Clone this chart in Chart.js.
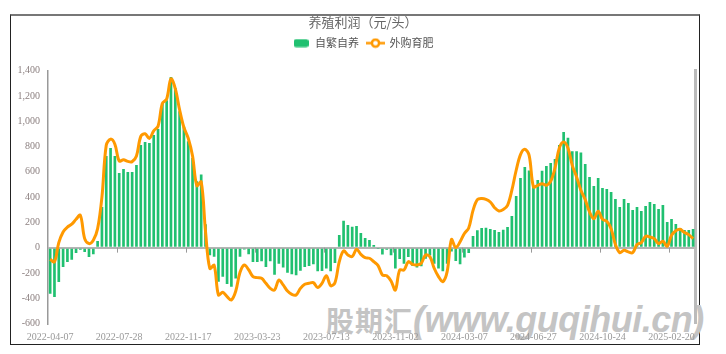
<!DOCTYPE html>
<html>
<head>
<meta charset="utf-8">
<script src="https://cdn.jsdelivr.net/npm/chart.js@4/dist/chart.umd.min.js"></script>
<style>
  html, body { margin: 0; padding: 0; background: #fff; }
  #wrap { position: relative; width: 726px; height: 354px; overflow: hidden; }
  #frame { position: absolute; left: 10px; top: 14px; width: 690px; height: 331px; box-sizing: border-box;
           border: 1px solid #222; border-top: 2px solid #777; }
  #mark { position: absolute; left: 326px; top: 300px; white-space: nowrap; color: #c4c4c4;
          font-weight: bold; line-height: 40px; }
  #mark .cn { font-family: "Noto Sans CJK SC"; font-size: 28px; letter-spacing: 1px; }
  #mark .en { font-family: "Liberation Sans"; font-style: italic; font-size: 36px; letter-spacing: -0.5px; }
  canvas { position: absolute; left: 0; top: 0; }
</style>
</head>
<body>
<div id="wrap">
  <div id="frame"></div>
  <div id="mark"><span class="cn">股期汇</span><span class="en">(www.guqihui.cn)</span></div>
  <canvas id="chart" width="726" height="354"></canvas>
</div>
<script>
// x轴标签（每16个数据点一个）
const tickDates = ["2022-04-07", "2022-07-28", "2022-11-17", "2023-03-23", "2023-07-13",
  "2023-11-02", "2024-03-07", "2024-06-27", "2024-10-24", "2025-02-20"];

// 自繁自养 (元/头)
const selfBred = [
  -364, -390, -272, -153, -113, -95, -42, -16, -34, -74, -53, 53, 322, 725, 788, 725,
  591, 622, 599, 599, 654, 812, 836, 828, 891, 939, 1139, 1166, 1350, 1263, 1079, 955,
  841, 709, 525, 578, 185, -60, -72, -270, -230, -288, -310, -244, -72, -15, -52, -113,
  -113, -108, -153, -108, -214, -127, -158, -198, -211, -219, -182, -153, -145, -132, -187, -185,
  -166, -187, -121, 100, 212, 179, 166, 172, 116, 76, 60, 21, -5, -55, -16, -61,
  -166, -90, -127, -74, -145, -158, -148, -87, -61, -127, -166, -187, -127, -30, -105, -132,
  -79, -42, 92, 138, 156, 158, 148, 140, 124, 142, 163, 250, 409, 551, 638, 609,
  488, 535, 607, 646, 670, 701, 812, 915, 868, 762, 762, 752, 662, 559, 488, 551,
  472, 464, 440, 385, 322, 385, 353, 298, 322, 290, 330, 361, 345, 306, 338, 203,
  227, 187, 156, 140, 140, 148
];

// 外购育肥 (元/头)
const purchased = [
  -92, -113, 40, 124, 163, 185, 224, 256, 71, 32, 58, 150, 400, 810, 858, 818,
  685, 695, 682, 680, 725, 880, 900, 864, 924, 960, 1140, 1175, 1335, 1258, 1090, 950,
  865, 725, 490, 520, 130, -165, -140, -374, -353, -388, -414, -345, -195, -137, -175, -229,
  -237, -243, -282, -322, -335, -256, -295, -343, -369, -374, -322, -290, -282, -277, -316, -282,
  -222, -301, -277, -111, -26, -58, -71, -13, -53, -79, -84, -111, -142, -216, -222, -264,
  -335, -177, -177, -111, -132, -137, -124, -58, -71, -163, -229, -269, -190, 64, 0, 46,
  112, 155, 295, 380, 388, 382, 361, 316, 290, 301, 335, 454, 612, 736, 778, 730,
  480, 493, 506, 493, 525, 630, 788, 836, 788, 651, 559, 454, 380, 282, 229, 287,
  224, 208, 150, 24, -40, -21, -34, -40, 24, 40, 90, 84, 71, 32, 50, 11,
  98, 134, 145, 119, 103, 71
];

const STEP = 16;
const categories = [];
for (let i = 0; i < selfBred.length; i++) {
  const d = new Date(tickDates[Math.floor(i / STEP)] + "T00:00:00Z");
  d.setUTCDate(d.getUTCDate() + 7 * (i % STEP));
  categories.push(d.toISOString().slice(0, 10));
}

const GREEN = "#20c070";
const ORANGE = "#ff9900";

// 图例图标
function barIcon() {
  const c = document.createElement("canvas");
  c.width = 15; c.height = 9;
  const g = c.getContext("2d");
  g.fillStyle = GREEN;
  g.beginPath();
  g.roundRect(0, 0.5, 15, 8, 2.5);
  g.fill();
  return c;
}
function lineIcon() {
  const c = document.createElement("canvas");
  c.width = 19; c.height = 11;
  const g = c.getContext("2d");
  g.strokeStyle = ORANGE;
  g.lineWidth = 2.5;
  g.beginPath(); g.moveTo(0, 5.5); g.lineTo(19, 5.5); g.stroke();
  g.fillStyle = "#fff";
  g.beginPath(); g.arc(9.5, 5.5, 3.6, 0, Math.PI * 2); g.fill(); g.stroke();
  return c;
}

// 零轴上的刻度
const zeroTicks = {
  id: "zeroTicks",
  afterDraw(chart) {
    const x = chart.scales.x, y = chart.scales.y, ctx = chart.ctx;
    const y0 = y.getPixelForValue(0);
    const half = (x.getPixelForValue(1) - x.getPixelForValue(0)) / 2;
    ctx.save();
    ctx.strokeStyle = "#999";
    ctx.lineWidth = 1;
    tickDates.forEach((d, k) => {
      if (k === 0) return;
      const px = Math.round(x.getPixelForValue(k * STEP) - half) + 0.5;
      ctx.beginPath(); ctx.moveTo(px, y0); ctx.lineTo(px, y0 + 5); ctx.stroke();
    });
    ctx.restore();
  }
};

Chart.defaults.font.family = "Liberation Serif";
Chart.defaults.font.size = 10;

new Chart(document.getElementById("chart"), {
  data: {
    labels: categories,
    datasets: [
      {
        type: "bar",
        label: "自繁自养",
        data: selfBred,
        backgroundColor: GREEN,
        barPercentage: 0.62,
        categoryPercentage: 1,
        order: 1
      },
      {
        type: "line",
        label: "外购育肥",
        data: purchased,
        borderColor: ORANGE,
        borderWidth: 3,
        pointRadius: 0,
        tension: 0.35,
        fill: false,
        order: 0
      }
    ]
  },
  options: {
    responsive: false,
    animation: false,
    layout: { padding: 0 },
    plugins: {
      tooltip: { enabled: false },
      title: {
        display: true,
        text: "养殖利润（元/头）",
        color: "#666",
        font: { family: "Noto Sans CJK SC", size: 13, weight: "normal" },
        padding: { top: 14, bottom: 0 }
      },
      legend: {
        labels: {
          usePointStyle: true,
          pointStyleWidth: 17,
          padding: 8,
          color: "#555",
          font: { family: "Noto Sans CJK SC", size: 11 },
          generateLabels: () => [
            { text: "自繁自养", pointStyle: barIcon(), datasetIndex: 0, fontColor: "#555", lineWidth: 0 },
            { text: "外购育肥", pointStyle: lineIcon(), datasetIndex: 1, fontColor: "#555", lineWidth: 0 }
          ]
        }
      }
    },
    scales: {
      x: {
        type: "category",
        position: "bottom",
        grid: { display: false, drawTicks: false },
        border: { display: false },
        ticks: {
          autoSkip: false,
          maxRotation: 0,
          padding: 8,
          color: "#999",
          callback: (v, i) => (i % STEP === 0 ? categories[i] : null)
        },
        afterFit: s => { s.height = 30.5; }
      },
      xTop: {
        type: "category",
        position: "top",
        display: true,
        grid: { display: false, drawTicks: false },
        border: { display: false },
        ticks: { display: false },
        afterFit: s => { s.height = 12; }
      },
      y: {
        position: "left",
        min: -600,
        max: 1400,
        ticks: {
          stepSize: 200,
          padding: 8,
          color: "#8c8080",
          callback: v => v.toLocaleString("en-US")
        },
        grid: {
          drawTicks: false,
          color: c => (c.tick && c.tick.value === 0 ? "#b4b4b4" : "rgba(0,0,0,0)"),
          lineWidth: 2
        },
        border: { display: true, color: "#999", width: 1.5 },
        afterFit: s => { s.width = 48; }
      },
      yRight: {
        position: "right",
        display: true,
        min: -600,
        max: 1400,
        grid: { display: false, drawTicks: false },
        ticks: { display: false },
        border: { display: true, color: "#bbb", width: 3 },
        afterFit: s => { s.width = 30.75; }
      }
    }
  },
  plugins: [zeroTicks]
});
</script>
</body>
</html>
